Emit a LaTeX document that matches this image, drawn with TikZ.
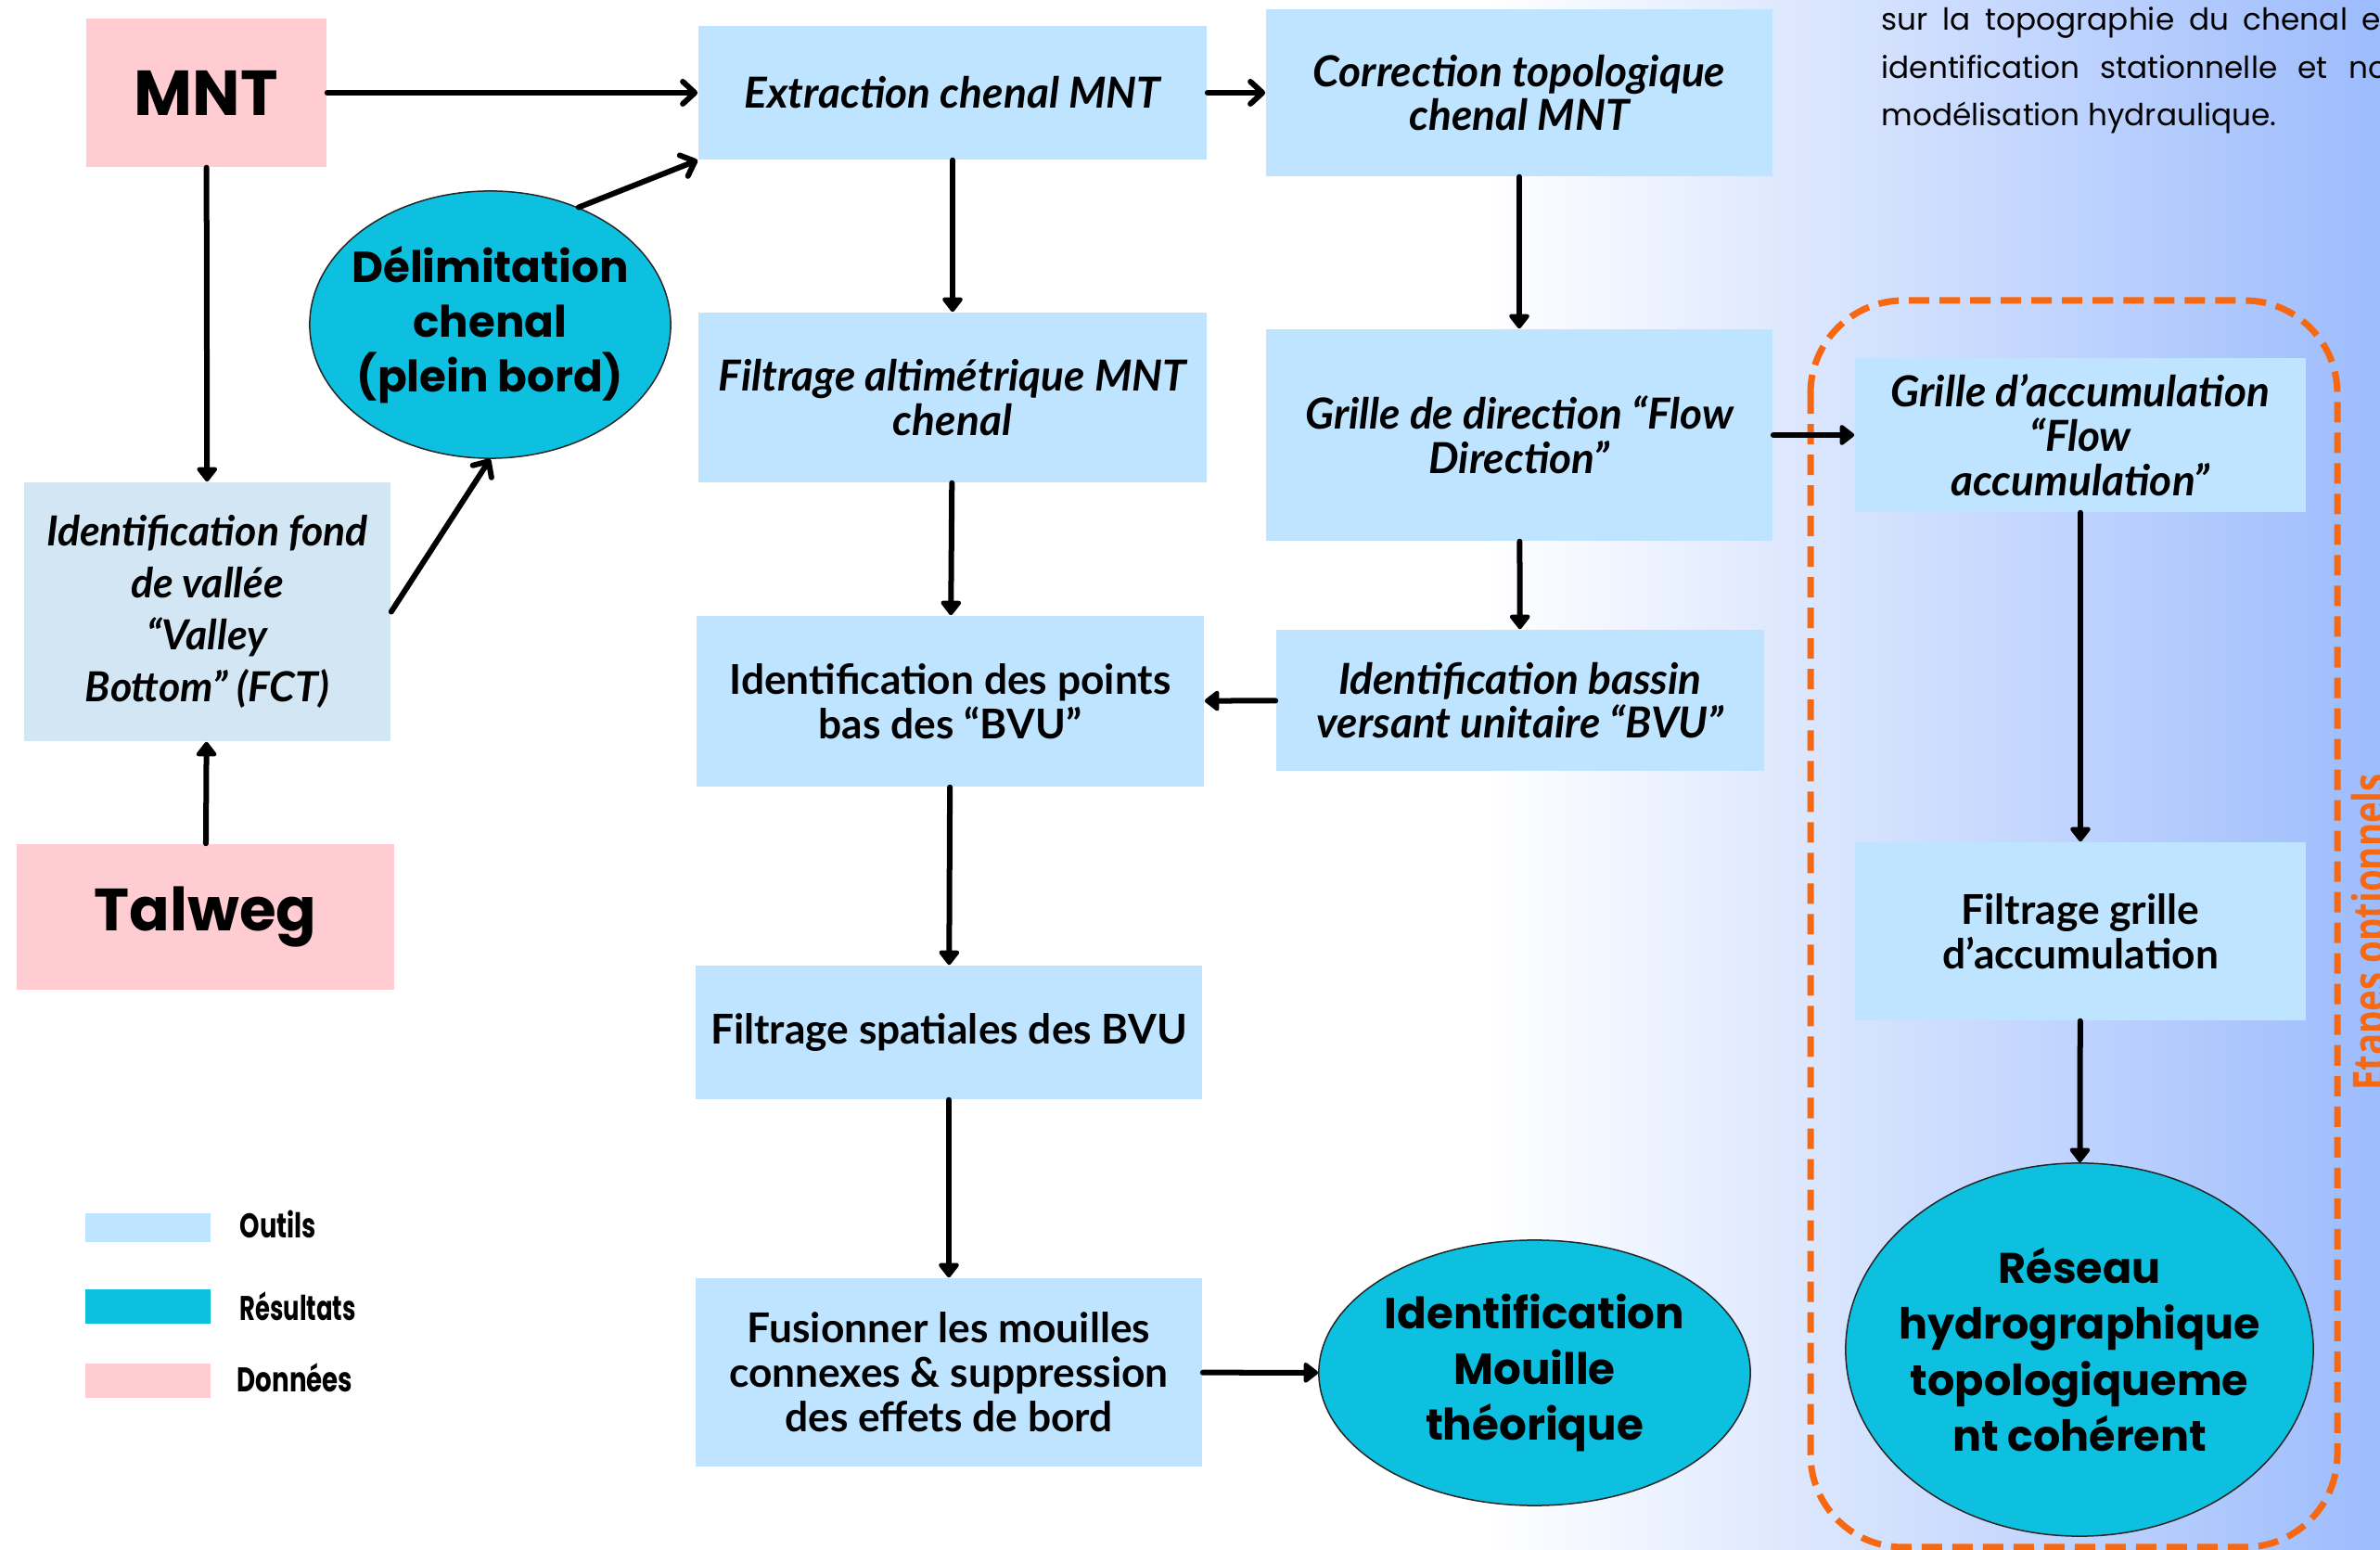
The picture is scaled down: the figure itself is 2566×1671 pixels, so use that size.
\documentclass[tikz,border=0pt]{standalone}
\usepackage{fontspec}
\usepackage{graphicx}
\setmainfont{Poppins}
\newfontfamily\latof{Lato}
\newfontfamily\osf{Open Sans}
\usetikzlibrary{arrows.meta,shapes.geometric}
\definecolor{toolc}{RGB}{191,228,255}
\definecolor{valc}{RGB}{210,231,243}
\definecolor{resc}{RGB}{14,192,223}
\definecolor{datac}{RGB}{255,204,210}
\definecolor{orangec}{RGB}{246,104,18}
\definecolor{bgc}{RGB}{157,188,253}
\tikzset{
  box/.style={rectangle, fill=toolc, inner sep=0pt, align=center,
    font=\latof\bfseries\fontsize{12.6}{13.6}\selectfont},
  ibox/.style={box, font=\latof\bfseries\itshape\fontsize{13.1}{13.6}\selectfont},
  resnode/.style={ellipse, fill=resc, draw=black!85, line width=0.015cm,
    inner xsep=-0.6cm, inner ysep=-0.3cm,
    align=center, font=\bfseries\fontsize{13.3}{17.2}\selectfont},
  datanode/.style={rectangle, fill=datac, inner sep=0pt, font=\bfseries},
  tri/.style={-{Triangle[width=0.25cm,length=0.17cm,round]}, line width=0.06cm, line cap=round},
  barb/.style={-{Straight Barb[width=0.24cm,length=0.13cm,round]}, line width=0.06cm, line cap=round},
  legbox/.style={rectangle, inner sep=0pt, minimum width=1.34cm},
  legtext/.style={anchor=west, inner sep=0pt, font=\bfseries\fontsize{10.5}{12}\selectfont},
  para/.style={anchor=base west, inner sep=0pt, font=\fontsize{9.3}{12}\selectfont}
}
\begin{document}
\begin{tikzpicture}[x=0.01cm,y=-0.01cm]
\useasboundingbox (0,0) rectangle (2566,1671);
\fill[white] (0,0) rectangle (2566,1671);
\fill[left color=white, right color=bgc] (1600,0) rectangle (2566,1671);

% top-right paragraph
\node[para] (p1) at (2028,33) {\makebox[5.5cm][s]{sur la topographie du chenal et}};
\node[para] (p2) at (2028,85) {\makebox[5.45cm][s]{identification stationnelle et no}};
\node[para] (p3) at (2028,136) {modélisation hydraulique.};

% data
\node[datanode, minimum width=2.59cm, minimum height=1.60cm, font=\bfseries\fontsize{19.5}{24}\selectfont] (mnt) at (222.5,100) {MNT};
\node[datanode, minimum width=4.07cm, minimum height=1.57cm, font=\bfseries\fontsize{18.3}{24}\selectfont] (tal) at (221.5,988.5) {Talweg};

% valley bottom
\node[ibox, fill=valc, minimum width=3.95cm, minimum height=2.79cm, font=\latof\bfseries\itshape\fontsize{12.7}{16}\selectfont] (val) at (223.5,659.5) {Identification fond\\de vallée\\“Valley\\Bottom” (FCT)};

% result ellipses
\node[resnode, minimum width=3.89cm, minimum height=2.88cm, font=\bfseries\fontsize{13.3}{16.8}\selectfont] (del) at (528.5,350) {Délimitation\\chenal\\(plein bord)};
\node[resnode, minimum width=4.65cm, minimum height=2.86cm] (mou) at (1654.5,1480) {Identification\\Mouille\\théorique};
\node[resnode, minimum width=5.04cm, minimum height=4.02cm, font=\bfseries\fontsize{13.1}{17.2}\selectfont] (res) at (2242,1455) {Réseau\\hydrographique\\topologiqueme\\nt cohérent};

% tool boxes
\node[ibox, minimum width=5.48cm, minimum height=1.44cm] (ext) at (1027,100) {Extraction chenal MNT};
\node[ibox, minimum width=5.46cm, minimum height=1.80cm] (cor) at (1638,100) {Correction topologique\\chenal MNT};
\node[ibox, minimum width=5.48cm, minimum height=1.83cm] (falt) at (1027,428.5) {Filtrage altimétrique MNT\\chenal};
\node[ibox, minimum width=5.46cm, minimum height=2.28cm] (gdir) at (1638,469) {Grille de direction “Flow\\Direction”};
\node[box, minimum width=5.47cm, minimum height=1.84cm] (pbas) at (1024.5,756) {Identification des points\\bas des “BVU”};
\node[ibox, minimum width=5.26cm, minimum height=1.52cm] (bas) at (1639,755) {Identification bassin\\versant unitaire “BVU”};
\node[box, minimum width=5.46cm, minimum height=1.44cm] (fspa) at (1023,1113) {Filtrage spatiales des BVU};
\node[box, minimum width=5.46cm, minimum height=2.03cm] (fus) at (1023,1479.5) {Fusionner les mouilles\\connexes \& suppression\\des effets de bord};
\node[ibox, minimum width=4.86cm, minimum height=1.66cm] (gacc) at (2243,469) {Grille d’accumulation\\“Flow\\accumulation”};
\node[box, minimum width=4.86cm, minimum height=1.92cm] (fgr) at (2243,1004) {Filtrage grille\\d’accumulation};

% optional frame
\draw[orangec, line width=0.07cm, dash pattern=on 0.22cm off 0.11cm, rounded corners=1cm] (1952,324) rectangle (2520,1668);
\node[rotate=90, anchor=base, inner sep=0pt, text=orangec, font=\osf\bfseries\fontsize{14}{16}\selectfont] (opt) at (2572,1005) {\scalebox{0.78}[1]{Etapes optionnels}};

% legend
\node[legbox, fill=toolc, minimum height=0.31cm] (l1) at (159.5,1323.5) {};
\node[legbox, fill=resc, minimum height=0.37cm] (l2) at (159.5,1408.5) {};
\node[legbox, fill=datac, minimum height=0.37cm, minimum width=1.35cm] (l3) at (159.5,1488.5) {};
\node[legtext] (t1) at (258,1320) {\scalebox{0.74}[1]{Outils}};
\node[legtext] (t2) at (258,1408) {\scalebox{0.70}[1]{Résultats}};
\node[legtext] (t3) at (255,1485) {\scalebox{0.75}[1]{Données}};

% connectors
\draw[barb] (mnt) -- (ext);
\draw[barb] (ext) -- (cor);
\draw[tri] (mnt) -- (val);
\draw[tri] (tal) -- (val);
\draw[barb] (val.east) -- (del.south);
\draw[barb] (del.53) -- (ext.south west);
\draw[tri] (ext) -- (falt);
\draw[tri] (falt) -- (pbas);
\draw[tri] (cor) -- (gdir);
\draw[tri] (gdir) -- (bas);
\draw[tri] (bas) -- (pbas);
\draw[tri] (pbas) -- (fspa);
\draw[tri] (fspa) -- (fus);
\draw[tri] (fus) -- (mou);
\draw[tri] (gdir) -- (gacc);
\draw[tri] (gacc) -- (fgr);
\draw[tri] (fgr) -- (res);
\end{tikzpicture}
\end{document}
